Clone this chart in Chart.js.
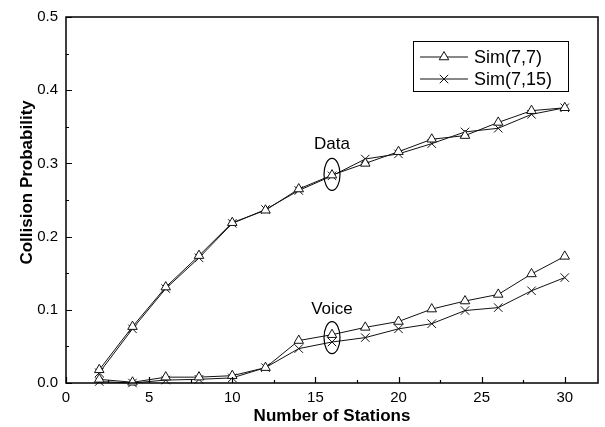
<!DOCTYPE html>
<html>
<head>
<meta charset="utf-8">
<script src="https://cdn.jsdelivr.net/npm/chart.js@4/dist/chart.umd.min.js"></script>
<style>
  html, body { margin: 0; padding: 0; background: #fff; }
  #wrap { width: 605px; height: 427px; }
</style>
</head>
<body>
<div id="wrap"><canvas id="collisionChart" width="605" height="427"></canvas></div>
<script>
// values
const stations = [2, 4, 6, 8, 10, 12, 14, 16, 18, 20, 22, 24, 26, 28, 30];
const dataSim77 = [0.018, 0.077, 0.131, 0.174, 0.219, 0.236, 0.265, 0.284, 0.300, 0.316, 0.333, 0.338, 0.356, 0.372, 0.376];
const dataSim715 = [0.014, 0.074, 0.129, 0.171, 0.218, 0.237, 0.263, 0.283, 0.306, 0.313, 0.327, 0.343, 0.348, 0.367, 0.376];
const voiceSim77 = [0.005, 0.001, 0.008, 0.008, 0.010, 0.021, 0.058, 0.066, 0.076, 0.084, 0.101, 0.112, 0.121, 0.149, 0.173];
const voiceSim715 = [0.002, 0.000, 0.004, 0.005, 0.007, 0.021, 0.047, 0.056, 0.062, 0.074, 0.081, 0.099, 0.103, 0.126, 0.144];
const xTicks = [0, 5, 10, 15, 20, 25, 30];
const seriesNames = ['Sim(7,7)', 'Sim(7,15)'];
const notes = [
    { text: 'Data', x: 16, textY: 0.326, ellY: 0.285 },
    { text: 'Voice', x: 16, textY: 0.100, ellY: 0.062 }
];
const yTitle = 'Collision Probability';

const FONT = '"Liberation Sans", Arial, sans-serif';

function pts(ys) {
    return stations.map((s, i) => ({ x: s, y: ys[i] }));
}

function series(label, ys, style, legend) {
    return {
        label: label,
        data: pts(ys),
        borderColor: '#111',
        borderWidth: 1,
        pointStyle: style,
        pointRadius: style === 'triangle' ? 5.5 : 6,
        pointBorderWidth: 1,
        pointBorderColor: '#111',
        pointBackgroundColor: '#fff',
        clip: false,
        showInLegend: legend
    };
}

// box, inward ticks, y title, legend and the two ellipse notes
const decor = {
    id: 'decor',
    afterDraw(chart) {
        const ctx = chart.ctx;
        const a = chart.chartArea;
        const xs = chart.scales.x, ys = chart.scales.y;
        ctx.save();
        ctx.strokeStyle = '#000';
        ctx.lineWidth = 1.5;
        ctx.strokeRect(a.left, a.top, a.right - a.left, a.bottom - a.top);

        ctx.lineWidth = 1.2;
        ctx.beginPath();
        for (let v = 0; v <= 0.5001; v += 0.05) {
            const y = Math.round(ys.getPixelForValue(v)) + 0.5;
            const len = Math.round(v * 100) % 10 === 0 ? 6 : 3;
            ctx.moveTo(a.left, y); ctx.lineTo(a.left + len, y);
        }
        for (let v = 0; v <= 30.01; v += 2.5) {
            const x = Math.round(xs.getPixelForValue(v)) + 0.5;
            const len = v % 5 === 0 ? 6 : 3;
            ctx.moveTo(x, a.bottom); ctx.lineTo(x, a.bottom - len);
        }
        ctx.stroke();

        // y axis title, sits a bit above the middle like the original
        ctx.fillStyle = '#000';
        ctx.font = 'bold 17px ' + FONT;
        ctx.textAlign = 'center';
        ctx.textBaseline = 'middle';
        ctx.save();
        ctx.translate(27, ys.getPixelForValue(0.274));
        ctx.rotate(-Math.PI / 2);
        ctx.fillText(yTitle, 0, 0);
        ctx.restore();

        // notes
        ctx.font = '17px ' + FONT;
        ctx.lineWidth = 1.2;
        notes.forEach(n => {
            const cx = xs.getPixelForValue(n.x);
            ctx.fillText(n.text, cx, ys.getPixelForValue(n.textY));
            ctx.beginPath();
            ctx.ellipse(cx, ys.getPixelForValue(n.ellY), 8, 16, 0, 0, Math.PI * 2);
            ctx.stroke();
        });

        // legend
        const bx = a.right - 185, by = a.top + 24, bw = 155, bh = 50;
        ctx.lineWidth = 1;
        ctx.strokeRect(bx + 0.5, by + 0.5, bw, bh);
        ctx.font = '18px ' + FONT;
        ctx.textAlign = 'left';
        const shown = chart.data.datasets.filter(d => d.showInLegend);
        shown.forEach((d, i) => {
            const y = by + 16 + i * 22;
            ctx.strokeStyle = d.borderColor;
            ctx.beginPath();
            ctx.moveTo(bx + 7, y); ctx.lineTo(bx + 55, y);
            ctx.stroke();
            ctx.fillStyle = '#fff';
            Chart.helpers.drawPoint(ctx, {
                pointStyle: d.pointStyle,
                radius: d.pointRadius,
                borderWidth: 1
            }, bx + 31, y);
            ctx.fillStyle = '#000';
            ctx.fillText(d.label, bx + 61, y + 1);
        });
        ctx.restore();
    }
};

function loadChart() {
    const ctx = document.getElementById('collisionChart').getContext('2d');
    Chart.defaults.font.family = FONT;
    Chart.defaults.color = '#000';
    new Chart(ctx, {
        type: 'line',
        data: {
            datasets: [
                series(seriesNames[0], dataSim77, 'triangle', true),
                series(seriesNames[1], dataSim715, 'crossRot', true),
                series(seriesNames[0], voiceSim77, 'triangle', false),
                series(seriesNames[1], voiceSim715, 'crossRot', false)
            ]
        },
        options: {
            responsive: false,
            animation: false,
            layout: { padding: { top: 13, right: 2, left: 0, bottom: 0 } },
            plugins: { legend: { display: false }, tooltip: { enabled: false } },
            scales: {
                x: {
                    type: 'linear',
                    min: 0,
                    max: 32,
                    grid: { display: false, drawTicks: false },
                    border: { display: false },
                    afterBuildTicks: s => { s.ticks = xTicks.map(v => ({ value: v })); },
                    afterFit: s => { s.height = 44; },
                    ticks: { font: { size: 15 }, padding: 6, maxRotation: 0 },
                    title: { display: true, text: 'Number of Stations', font: { size: 17, weight: 'bold' }, padding: { top: 0, bottom: 0 } }
                },
                y: {
                    min: 0,
                    max: 0.5,
                    grid: { display: false, drawTicks: false },
                    border: { display: false },
                    afterFit: s => { s.width = 66; },
                    ticks: { stepSize: 0.1, font: { size: 15 }, padding: 8, callback: v => v.toFixed(1) }
                }
            }
        },
        plugins: [decor]
    });
}

document.addEventListener('DOMContentLoaded', loadChart);
</script>
</body>
</html>
